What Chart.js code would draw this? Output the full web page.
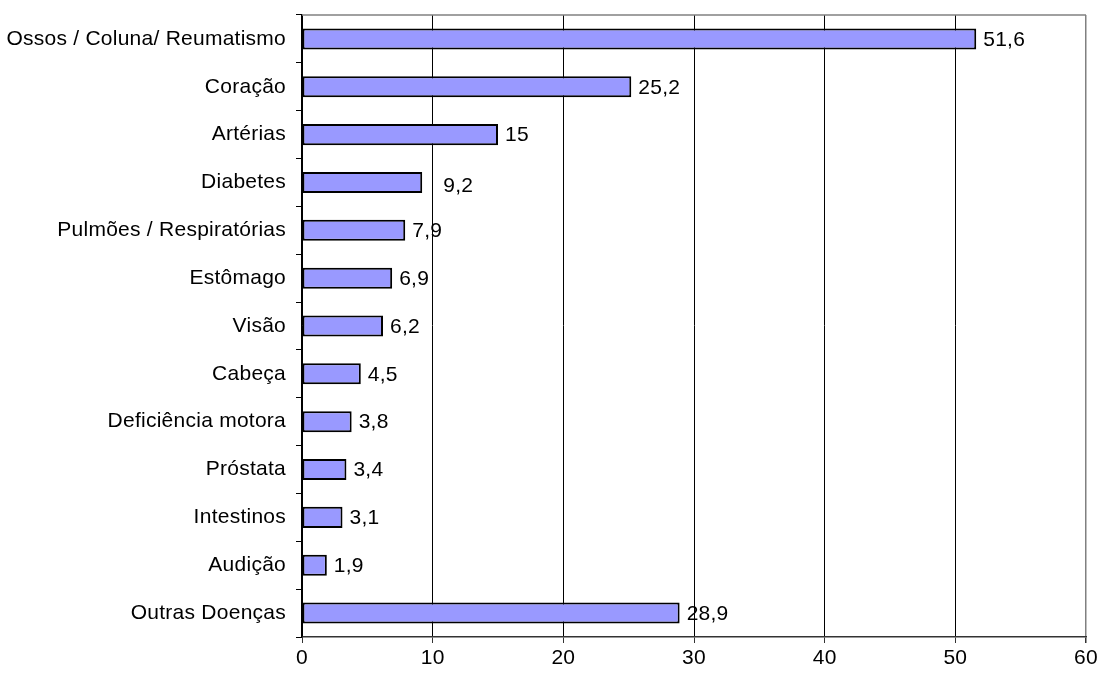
<!DOCTYPE html>
<html>
<head>
<meta charset="utf-8">
<script src="https://cdn.jsdelivr.net/npm/chart.js@4"></script>
<style>
  html, body { margin: 0; padding: 0; background: #fff; }
  #wrap { width: 1101px; height: 680px; }
</style>
</head>
<body>
<div id="wrap"><canvas id="chart" width="1101" height="680"></canvas></div>
<script>
// Doenças referidas (%)
const categories = [
    'Ossos / Coluna/ Reumatismo', 'Coração', 'Artérias', 'Diabetes',
    'Pulmões / Respiratórias', 'Estômago', 'Visão', 'Cabeça',
    'Deficiência motora', 'Próstata', 'Intestinos', 'Audição', 'Outras Doenças'
];
const values = [51.6, 25.2, 15, 9.2, 7.9, 6.9, 6.2, 4.5, 3.8, 3.4, 3.1, 1.9, 28.9];
const xTicks = [0, 10, 20, 30, 40, 50, 60];

const FONT = '"Liberation Sans", Arial, sans-serif';
const FONT_SIZE = 21;
const SPACING = '0.25px';

// slightly wider text, like the old office charts
const letterSpacing = {
    id: 'letterSpacing',
    beforeInit(chart) { chart.ctx.letterSpacing = SPACING; },
    beforeLayout(chart) { chart.ctx.letterSpacing = SPACING; },
    beforeDraw(chart) { chart.ctx.letterSpacing = SPACING; }
};

// value labels at the end of each bar, decimal comma
const valueLabels = {
    id: 'valueLabels',
    afterDatasetsDraw(chart) {
        const ctx = chart.ctx;
        const meta = chart.getDatasetMeta(0);
        ctx.save();
        ctx.letterSpacing = SPACING;
        ctx.font = FONT_SIZE + 'px ' + FONT;
        ctx.fillStyle = '#000';
        ctx.textAlign = 'left';
        ctx.textBaseline = 'middle';
        meta.data.forEach((bar, i) => {
            const txt = String(values[i]).replace('.', ',');
            // the Diabetes label sits a little off the bar
            const dx = i === 3 ? 21 : 7;
            const dy = i === 3 ? 4 : 1;
            ctx.fillText(txt, bar.x + dx, bar.y + dy);
        });
        ctx.restore();
    }
};

// grey frame line along the top of the plot area
const topBorder = {
    id: 'topBorder',
    beforeDatasetsDraw(chart) {
        const { ctx, chartArea } = chart;
        ctx.save();
        ctx.strokeStyle = '#808080';
        ctx.lineWidth = 1.5;
        ctx.beginPath();
        ctx.moveTo(chartArea.left, chartArea.top);
        ctx.lineTo(chartArea.right, chartArea.top);
        ctx.stroke();
        ctx.restore();
    }
};

new Chart(document.getElementById('chart'), {
    type: 'bar',
    data: {
        labels: categories,
        datasets: [{
            data: values,
            backgroundColor: '#9999FF',
            borderColor: '#000',
            borderWidth: 2,
            borderSkipped: false,
            barPercentage: 0.44,
            categoryPercentage: 1
        }]
    },
    options: {
        indexAxis: 'y',
        responsive: false,
        animation: false,
        layout: { padding: { top: 15, right: 15, left: 0, bottom: 0 } },
        plugins: {
            legend: { display: false },
            tooltip: { enabled: false }
        },
        scales: {
            x: {
                min: 0,
                max: 60,
                afterBuildTicks(scale) {
                    scale.ticks = xTicks.map(v => ({ value: v }));
                },
                afterFit(scale) { scale.height = 43; },
                grid: {
                    color: ctx => ctx.index === xTicks.length - 1 ? '#808080' : '#000',
                    lineWidth: ctx => ctx.index === xTicks.length - 1 ? 1.5 : 1,
                    tickLength: 6,
                    tickColor: '#333'
                },
                border: { color: '#333', width: 1.5 },
                ticks: {
                    color: '#000',
                    font: { family: FONT, size: FONT_SIZE },
                    padding: 3,
                    maxRotation: 0
                }
            },
            y: {
                afterFit(scale) {
                    scale.width = 302;
                    // labels sit mid-band, no extra room needed above/below
                    scale.paddingTop = 0;
                    scale.paddingBottom = 0;
                },
                grid: {
                    offset: true,
                    drawOnChartArea: false,
                    tickLength: 6,
                    color: '#000'
                },
                border: { color: '#000', width: 1.5 },
                ticks: {
                    color: '#000',
                    font: { family: FONT, size: FONT_SIZE },
                    padding: 10,
                    autoSkip: false
                }
            }
        }
    },
    plugins: [letterSpacing, valueLabels, topBorder]
});
</script>
</body>
</html>
